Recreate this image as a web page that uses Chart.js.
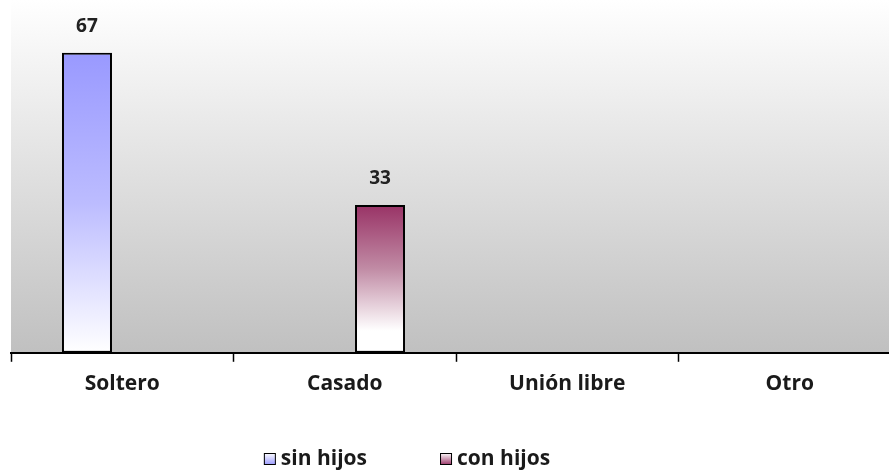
<!DOCTYPE html>
<html>
<head>
<meta charset="utf-8">
<script src="https://cdn.jsdelivr.net/npm/chart.js@4"></script>
<style>
  html, body { margin: 0; padding: 0; background: #fff; overflow: hidden; }
  #wrap { width: 901px; height: 470px; position: relative; }
</style>
</head>
<body>
<div id="wrap"><canvas id="myChart"></canvas></div>
<script>
'use strict';

const categories = ['Soltero', 'Casado', 'Unión libre', 'Otro'];
const sinHijos = [67, 0, 0, 0];
const conHijos = [0, 33, 0, 0];
const seriesNames = ['sin hijos', 'con hijos'];
const seriesColors = ['#9999ff', '#993366'];

const FONT = '"Open Sans", "Liberation Sans", sans-serif';

// vertical gradient for one bar, from its top to the axis
function barGradient(context, color, midColor, whiteAt) {
    const chart = context.chart;
    const area = chart.chartArea;
    if (!area) return color;
    const v = context.raw;
    if (!v) return color;
    const yScale = chart.scales.y;
    const top = yScale.getPixelForValue(v);
    const bottom = yScale.getPixelForValue(0);
    const g = chart.ctx.createLinearGradient(0, top, 0, bottom);
    g.addColorStop(0, color);
    g.addColorStop(whiteAt / 2, midColor);
    g.addColorStop(whiteAt, '#ffffff');
    g.addColorStop(1, '#ffffff');
    return g;
}

// grey plot background
const plotBackground = {
    id: 'plotBackground',
    beforeDraw(chart) {
        const { ctx, chartArea } = chart;
        const g = ctx.createLinearGradient(0, chartArea.top, 0, chartArea.bottom);
        g.addColorStop(0, '#ffffff');
        g.addColorStop(1, '#c0c0c0');
        ctx.save();
        ctx.fillStyle = g;
        ctx.fillRect(chartArea.left, chartArea.top, chartArea.right - chartArea.left, chartArea.bottom - chartArea.top);
        ctx.restore();
    }
};

// value labels above bars
const valueLabels = {
    id: 'valueLabels',
    afterDatasetsDraw(chart) {
        const ctx = chart.ctx;
        ctx.save();
        ctx.font = 'bold 19px ' + FONT;
        ctx.fillStyle = '#222';
        ctx.textAlign = 'center';
        ctx.textBaseline = 'middle';
        chart.data.datasets.forEach((ds, i) => {
            chart.getDatasetMeta(i).data.forEach((bar, j) => {
                const v = ds.data[j];
                if (!v) return;
                ctx.fillText(String(v), bar.x, bar.y - 26);
            });
        });
        ctx.restore();
    }
};

// legend at the bottom, Excel style
const bottomLegend = {
    id: 'bottomLegend',
    afterDraw(chart) {
        const ctx = chart.ctx;
        ctx.save();
        ctx.font = 'bold 21px ' + FONT;
        const box = 12, gap = 5, spacing = 73;
        const widths = chart.data.datasets.map(ds => box + gap + ctx.measureText(ds.label).width);
        const total = widths.reduce((a, b) => a + b, 0) + spacing * (widths.length - 1);
        let x = 407 - total / 2;
        const y = 459;
        chart.data.datasets.forEach((ds, i) => {
            const g = ctx.createLinearGradient(0, y - box / 2, 0, y + box / 2);
            g.addColorStop(0, '#ffffff');
            g.addColorStop(1, seriesColors[i]);
            ctx.fillStyle = g;
            ctx.fillRect(x, y - box / 2, box, box);
            ctx.strokeStyle = '#000';
            ctx.lineWidth = 1;
            ctx.strokeRect(x + 0.5, y - box / 2 + 0.5, box - 1, box - 1);
            ctx.fillStyle = '#1a1a1a';
            ctx.textAlign = 'left';
            ctx.textBaseline = 'middle';
            ctx.fillText(ds.label, x + box + gap, y);
            x += widths[i] + spacing;
        });
        ctx.restore();
    }
};

const ctx = document.getElementById('myChart').getContext('2d');
const chart = new Chart(ctx, {
    type: 'bar',
    data: {
        labels: categories,
        datasets: [{
            label: seriesNames[0],
            data: sinHijos,
            backgroundColor: (c) => barGradient(c, seriesColors[0], '#bcbcff', 1),
            borderColor: '#000',
            borderWidth: (c) => c.raw ? 2 : 0,
            borderSkipped: false
        }, {
            label: seriesNames[1],
            data: conHijos,
            backgroundColor: (c) => barGradient(c, seriesColors[1], '#c08aa4', 0.85),
            borderColor: '#000',
            borderWidth: (c) => c.raw ? 2 : 0,
            borderSkipped: false
        }]
    },
    options: {
        responsive: true,
        maintainAspectRatio: false,
        animation: false,
        categoryPercentage: 0.634,
        barPercentage: 0.709,
        layout: { padding: { left: 11, right: 0, top: 0, bottom: 63 } },
        plugins: {
            legend: { display: false },
            tooltip: { enabled: false }
        },
        scales: {
            x: {
                grid: {
                    offset: true,
                    drawOnChartArea: false,
                    drawTicks: true,
                    tickLength: 9,
                    tickColor: '#000',
                    tickWidth: 1.5
                },
                border: { display: true, color: '#000', width: 2 },
                ticks: {
                    color: '#1a1a1a',
                    padding: 10,
                    font: { family: FONT, size: 21, weight: 'bold' }
                }
            },
            y: {
                display: false,
                min: 0,
                max: 78.8
            }
        }
    },
    plugins: [plotBackground, valueLabels, bottomLegend]
});
</script>
</body>
</html>
